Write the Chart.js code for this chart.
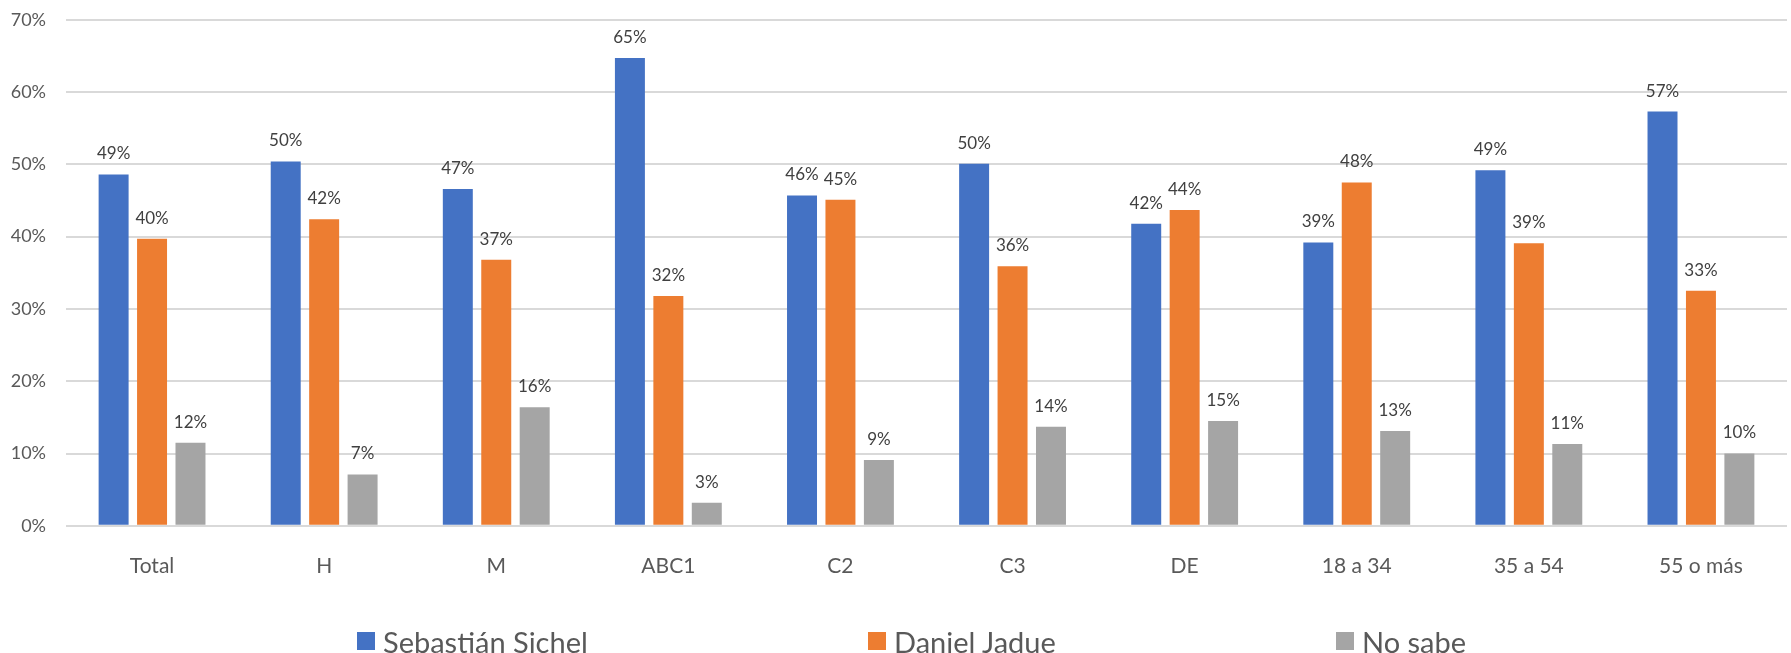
<!DOCTYPE html>
<html>
<head>
<meta charset="utf-8">
<script src="https://cdn.jsdelivr.net/npm/chart.js@4/dist/chart.umd.min.js"></script>
<style>
html,body{margin:0;padding:0;background:#fff;overflow:hidden;}
#wrap{position:relative;width:1791px;height:653px;overflow:hidden;}
#box{position:absolute;left:0;top:-11px;width:1791px;height:611px;}
#legend{position:absolute;left:0;top:0;width:1791px;height:653px;pointer-events:none;}
.item{position:absolute;top:625px;height:32px;display:flex;align-items:center;font-family:Lato,'Open Sans',sans-serif;font-size:29px;color:#595959;white-space:nowrap;}
.item span.sw{display:inline-block;width:18px;height:18px;margin-right:8px;}
</style>
</head>
<body>
<div id="wrap">
<div id="box"><canvas id="chart"></canvas></div>
<div id="legend"></div>
</div>
<script>
// categorias y series
const categories = ["Total","H","M","ABC1","C2","C3","DE","18 a 34","35 a 54","55 o más"];
const sichel = [48.6,50.4,46.6,64.7,45.7,50.1,41.8,39.2,49.2,57.3];
const jadue  = [39.7,42.4,36.8,31.8,45.1,35.9,43.7,47.5,39.1,32.5];
const noSabe = [11.5,7.1,16.4,3.2,9.1,13.7,14.5,13.1,11.3,10.0];
const yTicks = [0,10,20,30,40,50,60,70];

const seriesNames = ["Sebastián Sichel","Daniel Jadue","No sabe"];
const colors = ["#4472c4","#ed7d31","#a5a5a5"];

const fontFam = "Lato, 'Open Sans', sans-serif";

// etiquetas de valor sobre cada barra
const valueLabels = {
  id:"valueLabels",
  afterDatasetsDraw(chart){
    let ctx = chart.ctx;
    ctx.save();
    ctx.font = "17px " + fontFam;
    ctx.fillStyle = "#404040";
    ctx.textAlign = "center";
    ctx.textBaseline = "bottom";
    chart.data.datasets.forEach((ds,i)=>{
      let meta = chart.getDatasetMeta(i);
      meta.data.forEach((bar,j)=>{
        ctx.fillText(Math.round(ds.data[j]) + "%", bar.x, bar.y - 12);
      });
    });
    ctx.restore();
  }
};

let chart = new Chart(document.getElementById("chart"),{
  type:"bar",
  data:{
    labels:categories,
    datasets:[
      {label:seriesNames[0],data:sichel,backgroundColor:colors[0]},
      {label:seriesNames[1],data:jadue,backgroundColor:colors[1]},
      {label:seriesNames[2],data:noSabe,backgroundColor:colors[2]}
    ]
  },
  options:{
    responsive:true,
    maintainAspectRatio:false,
    animation:false,
    layout:{padding:{top:0,right:4,left:0,bottom:1}},
    datasets:{bar:{categoryPercentage:0.67,barPercentage:0.78}},
    plugins:{
      legend:{display:false},
      tooltip:{enabled:false}
    },
    scales:{
      x:{
        grid:{display:false},
        border:{display:false},
        ticks:{color:"#595959",padding:20,maxRotation:0,font:{family:fontFam,size:21}}
      },
      y:{
        min:0,
        max:70,
        afterBuildTicks(axis){ axis.ticks = yTicks.map(v=>({value:v})); },
        afterFit(axis){ axis.width = 66; },
        grid:{color:"#d9d9d9",lineWidth:2,drawTicks:false},
        border:{display:false},
        ticks:{color:"#595959",padding:20,font:{family:fontFam,size:18},callback:v=>v+"%"}
      }
    }
  },
  plugins:[valueLabels]
});

// leyenda abajo, como en el original
const legendX = [357,868,1336];
let legend = document.getElementById("legend");
chart.data.datasets.forEach((ds,i)=>{
  legend.innerHTML += `<div class="item" style="left:${legendX[i]}px"><span class="sw" style="background:${ds.backgroundColor}"></span>${ds.label}</div>`;
});
</script>
</body>
</html>
